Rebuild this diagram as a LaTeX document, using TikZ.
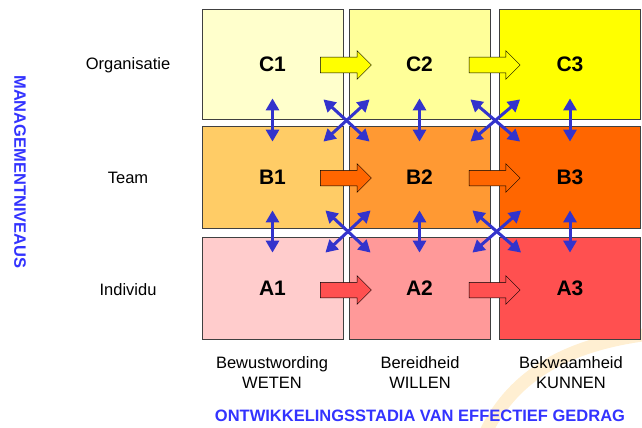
\documentclass[tikz,border=0pt]{standalone}
\usepackage{fontspec}
\setmainfont{Liberation Sans}
\usetikzlibrary{shapes.arrows, arrows.meta, calc}

\definecolor{levelC1}{HTML}{FFFFCC}
\definecolor{levelC2}{HTML}{FFFF99}
\definecolor{levelC3}{HTML}{FFFF00}
\definecolor{levelB1}{HTML}{FFCC66}
\definecolor{levelB2}{HTML}{FF9933}
\definecolor{levelB3}{HTML}{FF6600}
\definecolor{levelA1}{HTML}{FFCCCC}
\definecolor{levelA2}{HTML}{FF9999}
\definecolor{levelA3}{HTML}{FF5050}
\definecolor{linkblue}{HTML}{3333CC}
\definecolor{titleblue}{HTML}{3333FF}
\definecolor{faintorange}{HTML}{FFEFD2}

\begin{document}
\begin{tikzpicture}[x=1pt,y=-1pt,
    every node/.style={font=\fontsize{16.5}{20}\selectfont},
    cell/.style={draw=black!75,line width=0.8pt,minimum width=141pt,font=\fontsize{21}{24}\selectfont\bfseries},
    stagearrow/.style={single arrow,draw=black,line width=0.5pt,minimum height=51pt,minimum width=28pt,
        single arrow head extend=6.5pt,inner sep=7.5pt,xshift=-4pt},
    link/.style={draw=linkblue,line width=3pt,{Triangle[length=12pt,width=13pt]}-{Triangle[length=12pt,width=13pt]}},
    title/.style={text=titleblue,font=\fontsize{16.5}{20}\selectfont\bfseries}]
        \useasboundingbox (0,0) rectangle (642,428);

        % faint background arc
        \draw[faintorange,line width=13pt] (484,436) .. controls (510,380) and (560,345) .. (650,334);

        \node[cell,fill=levelC1,minimum height=110pt] (c1) at (272.5,64) {C1};
        \node[cell,fill=levelC2,minimum height=110pt] (c2) at (419.5,64) {C2};
        \node[cell,fill=levelC3,minimum height=110pt] (c3) at (570,64) {C3};

        \node[cell,fill=levelB1,minimum height=102pt] (b1) at (272.5,177) {B1};
        \node[cell,fill=levelB2,minimum height=102pt] (b2) at (419.5,177) {B2};
        \node[cell,fill=levelB3,minimum height=102pt] (b3) at (570,177) {B3};

        \node[cell,fill=levelA1,minimum height=102pt] (a1) at (272.5,288) {A1};
        \node[cell,fill=levelA2,minimum height=102pt] (a2) at (419.5,288) {A2};
        \node[cell,fill=levelA3,minimum height=102pt] (a3) at (570,288) {A3};

        \node[stagearrow,fill=levelC3] (c12) at ($(c1)!0.5!(c2)+(0,1)$) {};
        \node[stagearrow,fill=levelC3] (c23) at ($(c2)!0.5!(c3)+(0,1)$) {};
        \node[stagearrow,fill=levelB3] (b12) at ($(b1)!0.5!(b2)+(0,1)$) {};
        \node[stagearrow,fill=levelB3] (b23) at ($(b2)!0.5!(b3)+(0,1)$) {};
        \node[stagearrow,fill=levelA3] (a12) at ($(a1)!0.5!(a2)+(0,2)$) {};
        \node[stagearrow,fill=levelA3] (a23) at ($(a2)!0.5!(a3)+(0,2)$) {};

        % between C and B
        \draw[link] ([yshift=21pt]c1.south) -- ([yshift=-16pt]b1.north);
        \draw[link] ([yshift=21pt]c2.south) -- ([yshift=-16pt]b2.north);
        \draw[link] ([yshift=21pt]c3.south) -- ([yshift=-16pt]b3.north);
        \draw[link] ([shift={(-20pt,20pt)}]c1.south east) -- ([shift={(21pt,-16pt)}]b2.north west);
        \draw[link] ([shift={(21pt,20pt)}]c2.south west) -- ([shift={(-20pt,-16pt)}]b1.north east);
        \draw[link] ([shift={(-20pt,20pt)}]c2.south east) -- ([shift={(21pt,-16pt)}]b3.north west);
        \draw[link] ([shift={(21pt,20pt)}]c3.south west) -- ([shift={(-20pt,-16pt)}]b2.north east);

        % between B and A
        \draw[link] ([yshift=18pt]b1.south) -- ([yshift=-16pt]a1.north);
        \draw[link] ([yshift=18pt]b2.south) -- ([yshift=-16pt]a2.north);
        \draw[link] ([yshift=18pt]b3.south) -- ([yshift=-16pt]a3.north);
        \draw[link] ([shift={(-18pt,18pt)}]b1.south east) -- ([shift={(22pt,-16pt)}]a2.north west);
        \draw[link] ([shift={(22pt,18pt)}]b2.south west) -- ([shift={(-18pt,-16pt)}]a1.north east);
        \draw[link] ([shift={(-18pt,18pt)}]b2.south east) -- ([shift={(22pt,-16pt)}]a3.north west);
        \draw[link] ([shift={(22pt,18pt)}]b3.south west) -- ([shift={(-18pt,-16pt)}]a2.north east);

        \node (org) at (128,65) {Organisatie};
        \node (team) at (128,178) {Team};
        \node (ind) at (128,290) {Individu};

        \node[align=center] (weten) at (272,373) {Bewustwording\\WETEN};
        \node[align=center] (willen) at (420,373) {Bereidheid\\WILLEN};
        \node[align=center] (kunnen) at (571,373) {Bekwaamheid\\KUNNEN};

        \node[title,rotate=-90] (levels) at (20,172) {MANAGEMENTNIVEAUS};
        \node[title] (stages) at (420,416) {ONTWIKKELINGSSTADIA VAN EFFECTIEF GEDRAG};
\end{tikzpicture}
\end{document}
